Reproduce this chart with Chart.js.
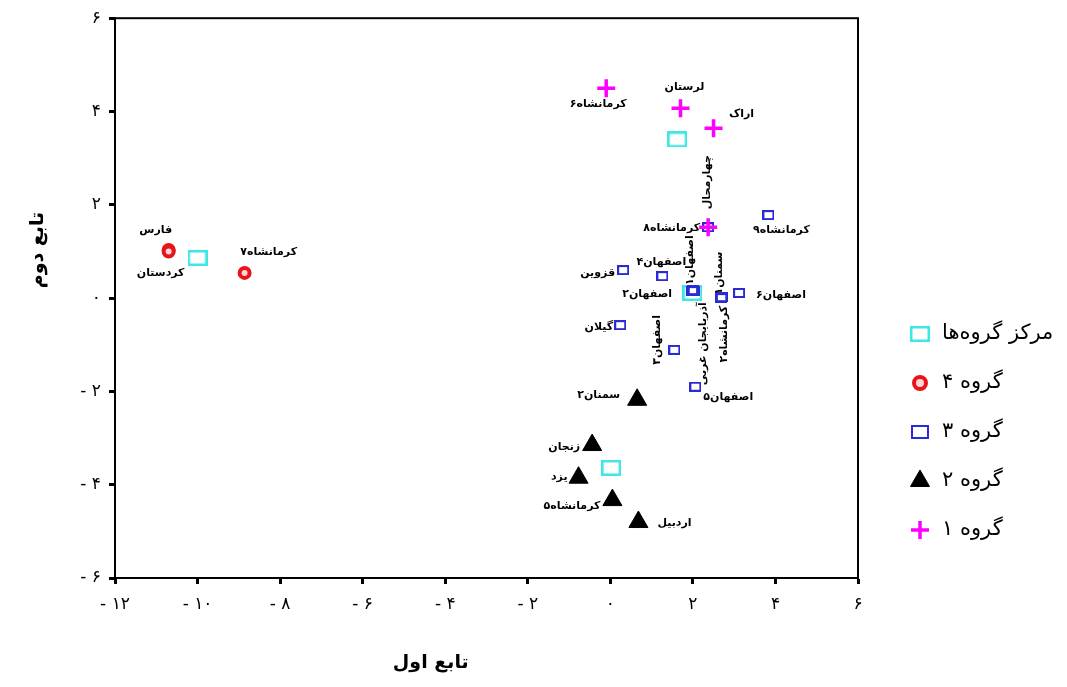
<!DOCTYPE html>
<html>
<head>
<meta charset="utf-8">
<script src="https://cdn.jsdelivr.net/npm/chart.js@4.4.0/dist/chart.umd.min.js"></script>
<style>
  html, body { margin: 0; background: #fff; }
  #wrap { width: 1067px; height: 687px; }
</style>
</head>
<body>
<div id="wrap"><canvas id="chart"></canvas></div>
<script>
// axis ticks
const xTicks = [-12, -10, -8, -6, -4, -2, 0, 2, 4, 6];
const yTicks = [-6, -4, -2, 0, 2, 4, 6];

// group centroids
const centerX = [-10.0, 1.62, 1.99, 0.02];
const centerY = [0.86, 3.4, 0.11, -3.64];

// group 4 (red circles)
const g4Names = ['فارس', 'کردستان', 'کرمانشاه۷'];
const g4X = [-10.7, -10.7, -8.86];
const g4Y = [1.03, 1.0, 0.54];

// group 3 (blue squares)
const g3Names = ['کرمانشاه۸', 'کرمانشاه۹', 'قزوین', 'اصفهان۴', 'اصفهان۱', 'اصفهان۲', 'آذربایجان غربی',
                 'سمنان۱', 'کرمانشاه۲', 'اصفهان۶', 'گیلان', 'اصفهان۳', 'اصفهان۵'];
const g3X = [2.37, 3.83, 0.31, 1.26, 2.0, 1.98, 2.02, 2.69, 2.7, 3.12, 0.24, 1.55, 2.06];
const g3Y = [1.52, 1.78, 0.6, 0.47, 0.17, 0.15, 0.16, 0.0, 0.02, 0.11, -0.58, -1.11, -1.9];

// group 2 (black triangles)
const g2Names = ['سمنان۲', 'زنجان', 'یزد', 'کرمانشاه۵', 'اردبیل'];
const g2X = [0.65, -0.44, -0.77, 0.05, 0.68];
const g2Y = [-2.18, -3.15, -3.85, -4.33, -4.8];

// group 1 (magenta crosses)
const g1Names = ['کرمانشاه۶', 'لرستان', 'اراک', 'چهارمحال'];
const g1X = [-0.1, 1.7, 2.5, 2.37];
const g1Y = [4.5, 4.07, 3.64, 1.52];

// label placement next to each point: [dx, dy, angle, align]
const labelSpots = {
  'کرمانشاه۶': [-8, 16, 0, 'center'],
  'لرستان': [4, -21, 0, 'center'],
  'اراک': [28, -14, 0, 'center'],
  'چهارمحال': [-1, -45, -90, 'center'],
  'کرمانشاه۸': [-8, 1, 0, 'right'],
  'فارس': [-13, -20, 0, 'center'],
  'کردستان': [-8, 22, 0, 'center'],
  'کرمانشاه۷': [24, -21, 0, 'center'],
  'کرمانشاه۹': [13, 15, 0, 'center'],
  'قزوین': [-8, 3, 0, 'right'],
  'اصفهان۴': [-1, -14, 0, 'center'],
  'اصفهان۱': [-3, -30, -90, 'center'],
  'اصفهان۲': [-20, 3, 0, 'right'],
  'آذربایجان غربی': [9, 53, -90, 'center'],
  'سمنان۱': [-2, -25, -90, 'center'],
  'کرمانشاه۲': [2, 37, -90, 'center'],
  'اصفهان۶': [17, 2, 0, 'left'],
  'گیلان': [-7, 2, 0, 'right'],
  'اصفهان۳': [-17, -10, -90, 'center'],
  'اصفهان۵': [8, 10, 0, 'left'],
  'سمنان۲': [-17, -5, 0, 'right'],
  'زنجان': [-12, 2, 0, 'right'],
  'یزد': [-11, -1, 0, 'right'],
  'کرمانشاه۵': [-12, 6, 0, 'right'],
  'اردبیل': [19, 1, 0, 'left']
};

const faDigits = '۰۱۲۳۴۵۶۷۸۹';
function fa(v) {
  const s = String(Math.abs(v)).replace(/\d/g, d => faDigits[d]);
  return v < 0 ? '- ' + s : s;
}

function boxImage(w, h, color, lw) {
  const c = document.createElement('canvas');
  c.width = w; c.height = h;
  const g = c.getContext('2d');
  g.strokeStyle = color;
  g.lineWidth = lw;
  g.strokeRect(lw / 2, lw / 2, w - lw, h - lw);
  return c;
}
const centerBox = boxImage(20, 16, '#3ee6e6', 2.5);
const blueBox = boxImage(12, 10, '#2b2bd6', 2);

function pts(xs, ys) {
  return xs.map((x, i) => ({ x: x, y: ys[i] }));
}

const datasets = [
  { label: 'گروه ۱', data: pts(g1X, g1Y), names: g1Names, pointStyle: 'cross', pointRadius: 9,
    borderColor: '#ff00ff', backgroundColor: '#ff00ff', pointBorderWidth: 3.5, legendRadius: 9 },
  { label: 'گروه ۲', data: pts(g2X, g2Y), names: g2Names, pointStyle: 'triangle', pointRadius: 11,
    borderColor: '#000', backgroundColor: '#000', pointBorderWidth: 1, legendRadius: 11 },
  { label: 'گروه ۳', data: pts(g3X, g3Y), names: g3Names, pointStyle: blueBox,
    borderColor: '#2b2bd6', backgroundColor: '#2b2bd6' },
  { label: 'گروه ۴', data: pts(g4X, g4Y), names: g4Names, pointStyle: 'circle', pointRadius: 5,
    borderColor: '#e8141c', backgroundColor: '#ffd6d6', pointBorderWidth: 4, legendRadius: 6 },
  { label: 'مرکز گروه‌ها', data: pts(centerX, centerY), names: [], pointStyle: centerBox,
    borderColor: '#3ee6e6', backgroundColor: '#3ee6e6' }
];

const FONT = '"DejaVu Sans", sans-serif';

// frame, point labels, axis titles and legend
const decor = {
  id: 'decor',
  afterDatasetsDraw(chart) {
    const ctx = chart.ctx;
    const a = chart.chartArea;
    const xs = chart.scales.x, ys = chart.scales.y;
    ctx.save();
    ctx.strokeStyle = '#000';
    ctx.lineWidth = 2;
    ctx.strokeRect(a.left, a.top, a.right - a.left, a.bottom - a.top);

    ctx.fillStyle = '#000';
    ctx.font = 'bold 11px ' + FONT;
    ctx.textBaseline = 'middle';
    chart.data.datasets.forEach(ds => {
      ds.data.forEach((p, i) => {
        const name = ds.names[i];
        if (!name) return;
        const s = labelSpots[name] || [0, -14, 0, 'center'];
        ctx.save();
        ctx.translate(xs.getPixelForValue(p.x) + s[0], ys.getPixelForValue(p.y) + s[1]);
        ctx.rotate(s[2] * Math.PI / 180);
        ctx.textAlign = s[3];
        ctx.fillText(name, 0, 0);
        ctx.restore();
      });
    });

    // axis titles
    ctx.font = 'bold 19px ' + FONT;
    ctx.textAlign = 'center';
    ctx.fillText('تابع اول', a.left + (a.right - a.left) * 0.425, 663);
    ctx.save();
    ctx.translate(38, 250);
    ctx.rotate(-Math.PI / 2);
    ctx.fillText('تابع دوم', 0, 0);
    ctx.restore();

    // legend
    ctx.font = '21px ' + FONT;
    ctx.textAlign = 'left';
    const items = chart.data.datasets.slice().reverse();
    items.forEach((ds, k) => {
      const cx = 920, cy = 334 + k * 49;
      if (ds.pointStyle instanceof HTMLCanvasElement) {
        const img = ds.pointStyle === blueBox ? boxImage(18, 14, '#2b2bd6', 2) : ds.pointStyle;
        ctx.drawImage(img, cx - img.width / 2, cy - img.height / 2);
      } else {
        ctx.fillStyle = ds.backgroundColor;
        ctx.strokeStyle = ds.borderColor;
        ctx.lineWidth = ds.pointBorderWidth;
        Chart.helpers.drawPoint(ctx, { pointStyle: ds.pointStyle, radius: ds.legendRadius,
          borderWidth: ds.pointBorderWidth, rotation: 0 }, cx, cy);
      }
      ctx.fillStyle = '#000';
      ctx.fillText(ds.label, 942, cy);
    });
    ctx.restore();
  }
};

new Chart(document.getElementById('chart'), {
  type: 'scatter',
  data: { datasets: datasets },
  options: {
    responsive: true,
    maintainAspectRatio: false,
    animation: false,
    layout: { padding: { top: 18, right: 209, left: 0, bottom: 0 } },
    plugins: { legend: { display: false }, tooltip: { enabled: false } },
    scales: {
      x: {
        type: 'linear', min: -12, max: 6,
        afterBuildTicks: s => { s.ticks = xTicks.map(v => ({ value: v })); },
        afterFit: s => { s.height = 109; },
        ticks: { callback: v => fa(v), color: '#000', padding: 10, maxRotation: 0, font: { family: FONT, size: 17 } },
        grid: { drawOnChartArea: false, tickLength: 6, tickWidth: 3, tickColor: '#000' },
        border: { color: '#000', width: 2 }
      },
      y: {
        type: 'linear', min: -6, max: 6,
        afterBuildTicks: s => { s.ticks = yTicks.map(v => ({ value: v })); },
        afterFit: s => { s.width = 115; },
        ticks: { callback: v => fa(v), color: '#000', padding: 8, font: { family: FONT, size: 17 } },
        grid: { drawOnChartArea: false, tickLength: 6, tickWidth: 3, tickColor: '#000' },
        border: { color: '#000', width: 2 }
      }
    }
  },
  plugins: [decor]
});
</script>
</body>
</html>
